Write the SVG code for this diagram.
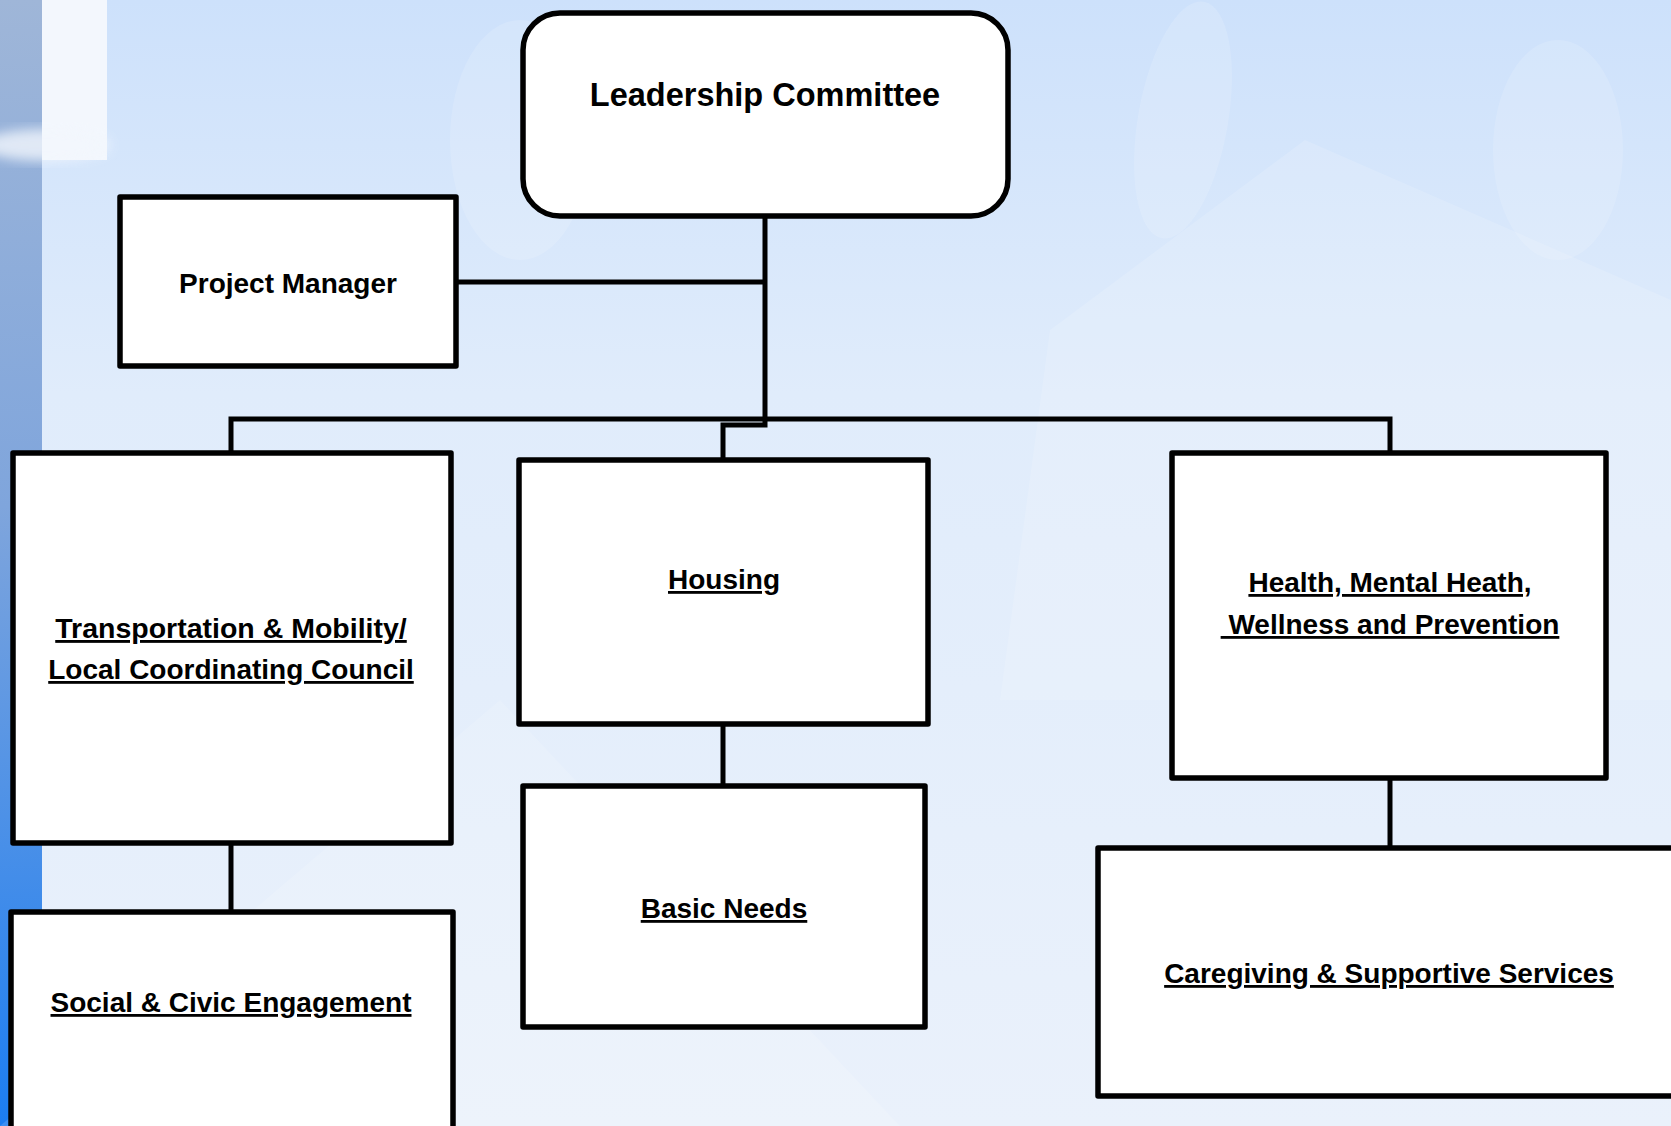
<svg xmlns="http://www.w3.org/2000/svg" width="1671" height="1126" viewBox="0 0 1671 1126">
<defs>
<linearGradient id="bg" x1="0" y1="0" x2="0" y2="1">
<stop offset="0" stop-color="#cde1fb"/>
<stop offset="0.35" stop-color="#e0ecfb"/>
<stop offset="1" stop-color="#eaf1fb"/>
</linearGradient>
<linearGradient id="strip" x1="0" y1="0" x2="0" y2="1">
<stop offset="0" stop-color="#9fb6d8"/>
<stop offset="0.45" stop-color="#7fa5dc"/>
<stop offset="1" stop-color="#1b7df2"/>
</linearGradient>
<filter id="blur" x="-20%" y="-20%" width="140%" height="140%"><feGaussianBlur stdDeviation="6"/></filter>
<style>
.box{fill:#ffffff;stroke:#000000;stroke-width:5.5;stroke-linejoin:round}
.t{font-family:"Liberation Sans",Arial,sans-serif;font-weight:bold;fill:#000000;text-anchor:middle}
.u{text-decoration:underline}
.c{fill:none;stroke:#000000;stroke-width:5;stroke-linejoin:miter}
.deco{fill:#ffffff;opacity:0.14}
</style>
</defs>
<rect x="0" y="0" width="1671" height="1126" fill="url(#bg)"/>
<g id="background-decor">
<rect x="0" y="0" width="42" height="1126" fill="url(#strip)"/>
<rect x="42" y="0" width="65" height="160" fill="#f3f7fd"/>
<ellipse cx="45" cy="145" rx="65" ry="16" fill="#f3f7fd" opacity="0.8" filter="url(#blur)"/>
<ellipse cx="1183" cy="120" rx="45" ry="120" transform="rotate(10 1183 120)" class="deco"/>
<ellipse cx="1558" cy="150" rx="65" ry="110" class="deco"/>
<path d="M1050 330 L1305 140 L1671 300 L1671 700 L1000 700 Z" class="deco"/>
<ellipse cx="520" cy="140" rx="70" ry="120" class="deco"/>
<path d="M0 1126 L500 700 L900 1126 Z" class="deco"/>
</g>
<g id="connectors">
<path class="c" d="M765 216 V425 H723 V460"/>
<path class="c" d="M456 282 H765"/>
<path class="c" d="M231 453 V419 H1390 V453"/>
<path class="c" d="M231 843 V912"/>
<path class="c" d="M723 724 V786"/>
<path class="c" d="M1390 778 V848"/>
</g>
<g id="leadership-committee">
<rect class="box" x="523" y="13" width="485" height="203" rx="37" ry="37"/>
<text class="t" x="765" y="106" font-size="32.5">Leadership Committee</text>
</g>
<g id="project-manager">
<rect class="box" x="120" y="197" width="336" height="169"/>
<text class="t" x="288" y="293" font-size="28">Project Manager</text>
</g>
<g id="transportation">
<rect class="box" x="13" y="453" width="438" height="390"/>
<text class="t u" x="231" y="638" font-size="28.5">Transportation &amp; Mobility/</text>
<text class="t u" x="231" y="679" font-size="28">Local Coordinating Council</text>
</g>
<g id="social-civic">
<rect class="box" x="11" y="912" width="442" height="220"/>
<text class="t u" x="231" y="1012" font-size="28">Social &amp; Civic Engagement</text>
</g>
<g id="housing">
<rect class="box" x="519" y="460" width="409" height="264"/>
<text class="t u" x="724" y="589" font-size="28">Housing</text>
</g>
<g id="basic-needs">
<rect class="box" x="523" y="786" width="402" height="241"/>
<text class="t u" x="724" y="918" font-size="28">Basic Needs</text>
</g>
<g id="health">
<rect class="box" x="1172" y="453" width="434" height="325"/>
<text class="t u" x="1390" y="592" font-size="28">Health, Mental Heath,</text>
<text class="t u" x="1390" y="634" font-size="28" xml:space="preserve"> Wellness and Prevention</text>
</g>
<g id="caregiving">
<rect class="box" x="1098" y="848" width="600" height="248"/>
<text class="t u" x="1389" y="983" font-size="28">Caregiving &amp; Supportive Services</text>
</g>
</svg>
